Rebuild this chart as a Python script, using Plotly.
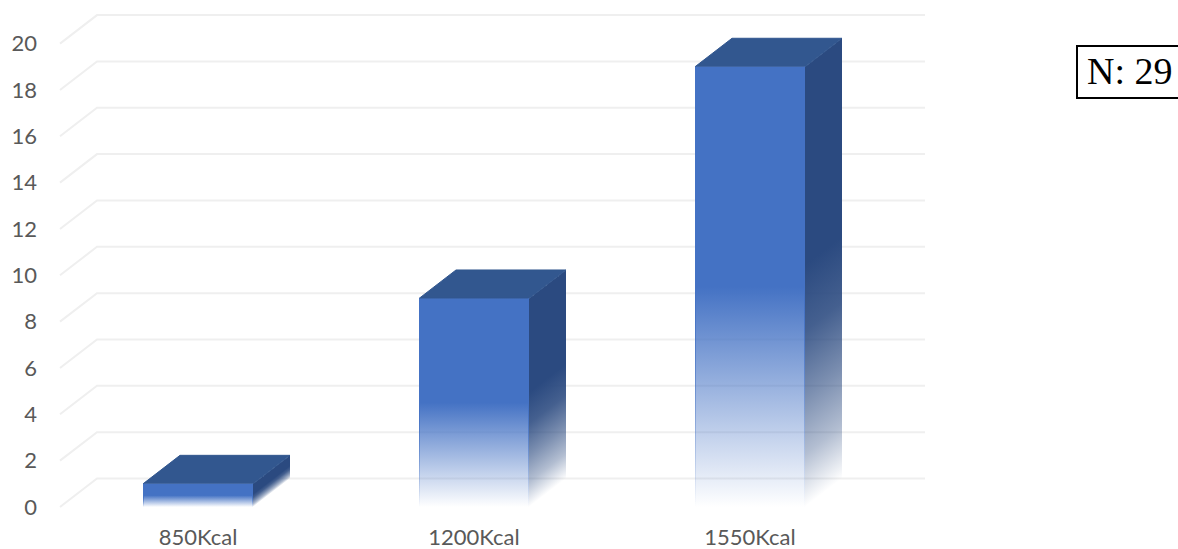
import plotly.graph_objects as go

# Chart data
categories = ["850Kcal", "1200Kcal", "1550Kcal"]
counts = [1, 9, 19]
y_ticks = [0, 2, 4, 6, 8, 10, 12, 14, 16, 18, 20]
note_text = "N: 29"

# Figure frame, in pixels
WIDTH, HEIGHT = 1178, 549
M_LEFT, M_BOTTOM = 38, 27
PX_PER_CAT, CAT0_PX = 276, 198
PX_PER_UNIT, ZERO_PX = 23.17, 507

# Oblique projection used for the 3D look
DEPTH_PX_X, DEPTH_PX_Y = 37, 28.5
DX = DEPTH_PX_X / PX_PER_CAT
DY = DEPTH_PX_Y / PX_PER_UNIT
HALF_BAR = 55 / PX_PER_CAT
ONE_PX = 1 / PX_PER_CAT
BAND = (-0.5, len(categories) - 0.5)

FRONT = "68,114,196"
SIDE = "43,74,128"
TOP = "#32578F"
GRID = "#EFEFEF"


def fade(rgb):
    """Front ramp: clear at the foot, solid from half way up."""
    return [[0, f"rgba({rgb},0)"], [0.5, f"rgba({rgb},1)"], [1, f"rgba({rgb},1)"]]


def side_fade(rgb):
    """Side ramp: rises faster, then eases into the solid colour."""
    return [
        [0, f"rgba({rgb},0)"], [0.12, f"rgba({rgb},0.36)"], [0.25, f"rgba({rgb},0.62)"],
        [0.4, f"rgba({rgb},0.88)"], [0.55, f"rgba({rgb},1)"], [1, f"rgba({rgb},1)"],
    ]


def polygon(xs, ys, line=None, **style):
    return go.Scatter(
        x=xs + xs[:1], y=ys + ys[:1], mode="lines", fill="toself",
        line=line or dict(width=0), hoverinfo="skip", showlegend=False, **style,
    )


fig = go.Figure()

# Floor-to-wall gridlines at every tick
for v in y_ticks:
    fig.add_trace(go.Scatter(
        x=[BAND[0], BAND[0] + DX, BAND[1] + DX],
        y=[v, v + DY, v + DY],
        mode="lines", line=dict(color=GRID, width=2),
        hoverinfo="skip", showlegend=False,
    ))

for i, v in enumerate(counts):
    x0, x1 = i - HALF_BAR, i + HALF_BAR

    # Side face: one-pixel vertical strips so the fade follows the receding edge
    for k in range(DEPTH_PX_X):
        a, b = k / DEPTH_PX_X, (k + 1) / DEPTH_PX_X
        foot = DY * (a + b) / 2
        fig.add_trace(polygon(
            [x1 + DX * a, x1 + DX * b, x1 + DX * b, x1 + DX * a],
            [DY * a, DY * b, v + DY * b, v + DY * a],
            fillgradient=dict(type="vertical", colorscale=side_fade(SIDE),
                              start=foot, stop=foot + v),
        ))

    # Top face; its outline closes the seam against the neighbouring faces
    fig.add_trace(polygon(
        [x0, x1, x1 + DX, x0 + DX], [v, v, v + DY, v + DY],
        line=dict(color=TOP, width=1), fillcolor=TOP,
    ))

    # Front face
    front_grad = dict(type="vertical", colorscale=fade(FRONT), start=0, stop=v)
    fig.add_trace(polygon([x0, x1, x1, x0], [0, 0, v, v], fillgradient=front_grad))

    # Slightly stronger vertical edges on the front face
    for left in (x0, x1 - ONE_PX):
        fig.add_trace(polygon(
            [left, left + ONE_PX, left + ONE_PX, left], [0, 0, v, v],
            fillgradient=front_grad,
        ))

plot_w = WIDTH - M_LEFT
plot_h = HEIGHT - M_BOTTOM


def paper_x(px):
    return (px - M_LEFT) / plot_w


def paper_y(px):
    return (plot_h - px) / plot_h


fig.update_layout(
    width=WIDTH, height=HEIGHT,
    margin=dict(l=M_LEFT, r=0, t=0, b=M_BOTTOM, pad=0),
    paper_bgcolor="white", plot_bgcolor="white",
    font=dict(family="Lato", size=22, color="#595959"),
    xaxis=dict(
        range=[(M_LEFT - CAT0_PX) / PX_PER_CAT, (WIDTH - CAT0_PX) / PX_PER_CAT],
        tickmode="array", tickvals=list(range(len(categories))), ticktext=categories,
        automargin=False,
        showgrid=False, zeroline=False, showline=False, ticks="", fixedrange=True,
    ),
    yaxis=dict(
        range=[(ZERO_PX - plot_h) / PX_PER_UNIT, ZERO_PX / PX_PER_UNIT],
        tickmode="array", tickvals=y_ticks,
        automargin=False,
        showgrid=False, zeroline=False, showline=False, ticks="", fixedrange=True,
    ),
    shapes=[dict(
        type="rect", xref="paper", yref="paper",
        x0=paper_x(1077), x1=paper_x(1190), y0=paper_y(98), y1=paper_y(46),
        line=dict(color="black", width=2), fillcolor="white",
    )],
    annotations=[dict(
        xref="paper", yref="paper", x=paper_x(1085), y=paper_y(71),
        xanchor="left", yanchor="middle", text=note_text, showarrow=False,
        font=dict(family="Liberation Serif", size=38, color="black"),
    )],
)

fig.write_html("out.html", config=dict(displayModeBar=False))
